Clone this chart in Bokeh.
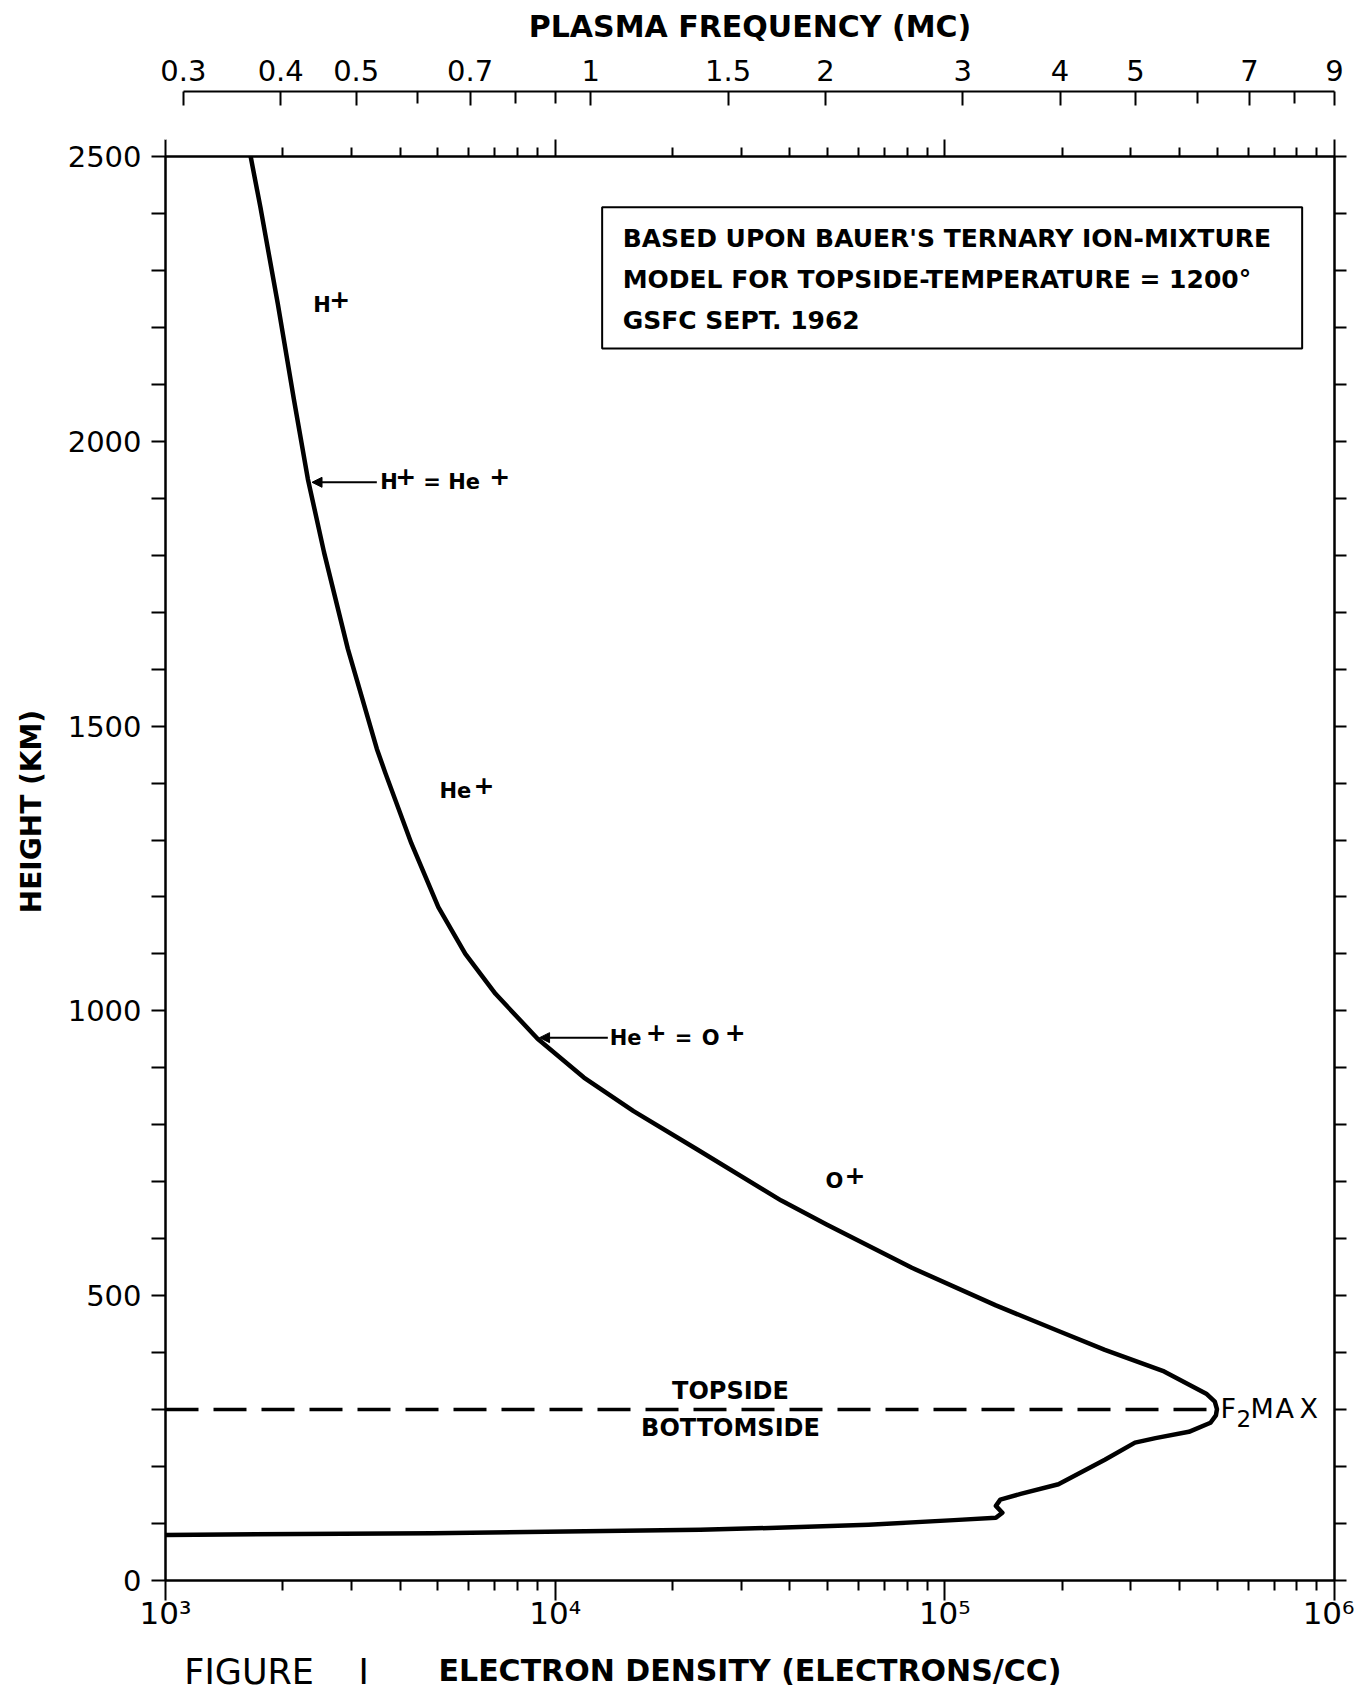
import math
from bokeh.plotting import figure
from bokeh.models import (LogAxis, LinearAxis, FixedTicker, Range1d, LogScale,
                          NumeralTickFormatter, Label, BoxAnnotation, Arrow, NormalHead)
from bokeh.embed import file_html
from bokeh.resources import INLINE

# ---------------- data ----------------
density = [1654, 1752, 1941, 2135, 2319, 2552, 2936, 3487, 3669, 4276, 5014, 5881,
           7029, 9013, 11850, 15890, 22990, 38050, 49720, 82290, 135200, 195700,
           257400, 365300, 468700, 493000, 499300, 496200, 480600, 423000, 347200,
           307600, 257400, 195700, 156500, 138800, 135200, 140500, 135200, 105500,
           63740, 38780, 23590, 4826, 1000]
height = [2500, 2411, 2242, 2074, 1934, 1805, 1636, 1460, 1417, 1294, 1182, 1100,
          1030, 951, 883, 824, 758, 667, 625, 549, 483, 438, 405, 367, 328, 314,
          301, 290, 277, 261, 250, 242, 212, 169, 152, 142, 131, 119, 110, 106,
          98, 93, 89, 83, 80]

density_range = [1e3, 1e6]
height_range = [0, 2500]
density_major = [1e3, 1e4, 1e5, 1e6]
density_minor = [m * 10 ** e for e in (3, 4, 5) for m in range(2, 10)]
density_labels = {1000: "10³", 10000: "10⁴", 100000: "10⁵", 1000000: "10⁶"}
height_major = [0, 500, 1000, 1500, 2000, 2500]
height_minor = [h for h in range(100, 2500, 100) if h % 500]
freq_major = [0.3, 0.4, 0.5, 0.7, 1, 1.5, 2, 3, 4, 5, 7, 9]
freq_minor = [0.6, 0.8, 0.9, 6, 8]
freq_bounds = (0.3, 9)
PLASMA_K = 9.0e-3           # MHz per sqrt(electrons/cc)
boundary_height = 300       # topside / bottomside boundary (km)

FONT = "DejaVu Sans"

p = figure(x_axis_type="log",
           x_range=Range1d(*density_range), y_range=Range1d(*height_range),
           frame_width=1169, frame_height=1424,
           output_backend="svg", toolbar_location=None, title=None,
           min_border_left=165, min_border_right=20, min_border_top=156,
           min_border_bottom=0,
           background_fill_color="white", border_fill_color="white")
p.grid.visible = False
p.outline_line_color = "black"
p.outline_line_width = 2

def style_axis(ax):
    ax.axis_line_width = 2
    ax.axis_line_color = "black"
    ax.major_tick_line_width = 2
    ax.minor_tick_line_width = 2
    ax.major_tick_line_color = "black"
    ax.minor_tick_line_color = "black"
    ax.major_label_text_color = "black"
    ax.major_label_text_font = FONT
    ax.axis_label_text_color = "black"
    ax.axis_label_text_font = FONT
    ax.axis_label_text_font_style = "bold"

def bare_axis(ax):
    ax.axis_line_color = None
    ax.major_tick_line_color = None
    ax.minor_tick_line_color = None
    ax.major_tick_in = 0
    ax.minor_tick_in = 0
    ax.minor_tick_out = 0

# bottom axis: electron density
xa = p.xaxis[0]
style_axis(xa)
xa.ticker = FixedTicker(ticks=density_major, minor_ticks=density_minor)
xa.major_label_overrides = density_labels
xa.major_tick_in = 0
xa.major_tick_out = 20
xa.minor_tick_in = 0
xa.minor_tick_out = 10
xa.major_label_text_font_size = "31px"
xa.major_label_standoff = -6
xa.axis_label = "ELECTRON DENSITY (ELECTRONS/CC)"
xa.axis_label_text_font_size = "30px"
xa.axis_label_standoff = 19

# outer bottom axis carrying only the "FIGURE I" caption, pulled onto the same row
fig_ax = LogAxis(ticker=FixedTicker(ticks=[1928]),
                 major_label_overrides={1928: "FIGURE\u00a0\u00a0\u00a0\u00a0I"})
bare_axis(fig_ax)
fig_ax.major_tick_out = 0
fig_ax.major_label_text_font = FONT
fig_ax.major_label_text_font_size = "35px"
fig_ax.major_label_text_color = "black"
fig_ax.major_label_standoff = -39
p.add_layout(fig_ax, "below")

# left axis: height
ya = p.yaxis[0]
style_axis(ya)
ya.ticker = FixedTicker(ticks=height_major, minor_ticks=height_minor)
ya.major_tick_in = 0
ya.major_tick_out = 14
ya.minor_tick_in = 0
ya.minor_tick_out = 14
ya.major_label_text_font_size = "29px"
ya.major_label_standoff = 10

# outer left axis carrying the height title
title_ax = LinearAxis(ticker=FixedTicker(ticks=[1350]),
                      major_label_overrides={1350: "HEIGHT (KM)"},
                      major_label_orientation="vertical")
bare_axis(title_ax)
title_ax.major_tick_out = 0
title_ax.major_label_text_font = FONT
title_ax.major_label_text_font_style = "bold"
title_ax.major_label_text_font_size = "28px"
title_ax.major_label_text_color = "black"
title_ax.major_label_standoff = 16
p.add_layout(title_ax, "left")

# right axis: ticks only
ra = LinearAxis(ticker=FixedTicker(ticks=height_major, minor_ticks=height_minor))
style_axis(ra)
ra.major_tick_in = 0
ra.major_tick_out = 12
ra.minor_tick_in = 0
ra.minor_tick_out = 12
ra.major_label_text_color = None
p.add_layout(ra, "right")

# top inner axis: density ticks pointing up, no labels
ta = LogAxis(ticker=FixedTicker(ticks=density_major, minor_ticks=density_minor))
style_axis(ta)
ta.major_tick_in = 0
ta.major_tick_out = 17
ta.minor_tick_in = 0
ta.minor_tick_out = 9
ta.major_label_text_color = None
p.add_layout(ta, "above")

# spacer between the frame and the frequency scale (one white tick at the left edge)
spacer = LogAxis(ticker=FixedTicker(ticks=[density_range[0]]))
spacer.axis_line_color = None
spacer.major_tick_line_color = "white"
spacer.major_tick_line_width = 1
spacer.minor_tick_line_color = None
spacer.major_tick_in = 0
spacer.major_tick_out = 48
spacer.major_label_text_color = None
p.add_layout(spacer, "above")

# top outer axis: plasma frequency
p.extra_x_ranges = {"freq": Range1d(round(PLASMA_K * math.sqrt(density_range[0]), 6),
                                    round(PLASMA_K * math.sqrt(density_range[1]), 6))}
p.extra_x_scales = {"freq": LogScale()}
fa = LogAxis(x_range_name="freq",
             ticker=FixedTicker(ticks=freq_major, minor_ticks=freq_minor),
             formatter=NumeralTickFormatter(format="0.[0]"),
             bounds=freq_bounds)
style_axis(fa)
fa.major_tick_in = 14
fa.major_tick_out = 0
fa.minor_tick_in = 12
fa.minor_tick_out = 0
fa.major_label_text_font_size = "29px"
fa.major_label_standoff = 11
fa.axis_label = "PLASMA FREQUENCY (MC)"
fa.axis_label_text_font_size = "30px"
fa.axis_label_standoff = 13
p.add_layout(fa, "above")

# ---------------- marks ----------------
p.line([density_range[0], max(density) * 0.95], [boundary_height, boundary_height],
       line_color="black", line_width=3.5, line_dash="33 15")
p.line(density, height, line_color="black", line_width=4.5, line_join="round")

# ---------------- annotations ----------------
def lab(x, y, text, size, bold=True, align="left", baseline="middle",
        dx=0, dy=0):
    p.add_layout(Label(x=x, y=y, x_offset=dx, y_offset=dy, text=text,
                       text_font=FONT, text_font_size=f"{size}px",
                       text_font_style="bold" if bold else "normal",
                       text_align=align, text_baseline=baseline,
                       text_color="black"))

def ion(x, y, parts, size=21):
    # parts: (text, horizontal offset in px, superscript?)
    for text, dx, sup in parts:
        if sup:
            lab(x, y, text, size + 4, dx=dx - 2, dy=6)
        else:
            lab(x, y, text, size, dx=dx)

p.add_layout(BoxAnnotation(left=13200, right=826000, bottom=2163, top=2411,
                           fill_color="white", fill_alpha=1.0,
                           line_color="black", line_alpha=1.0, line_width=2))
lab(14900, 2356, "BASED UPON BAUER'S TERNARY ION-MIXTURE", 25)
lab(14900, 2284, "MODEL FOR TOPSIDE-TEMPERATURE = 1200°", 25)
lab(14900, 2212, "GSFC SEPT. 1962", 25)

ion(2393, 2240, [("H", 0, False), ("+", 18, True)])
ion(3556, 1928, [("H", 0, False), ("+", 17, True), ("=", 43, False),
                 ("He", 68, False), ("+", 111, True)])
ion(5047, 1386, [("He", 0, False), ("+", 36, True)])
ion(13800, 953, [("He", 0, False), ("+", 38, True), ("=", 65, False),
                 ("O", 92, False), ("+", 117, True)])
ion(49400, 701, [("O", 0, False), ("+", 21, True)])

lab(28180, 333, "TOPSIDE", 24, align="center")
lab(28180, 267, "BOTTOMSIDE", 24, align="center")

# F2 MAX label
lab(510000, 302, "F", 27, bold=False)
lab(510000, 302, "2", 23, bold=False, dx=16, dy=-10)
lab(510000, 302, "M", 27, bold=False, dx=30)
lab(510000, 302, "A", 27, bold=False, dx=55)
lab(510000, 302, "X", 27, bold=False, dx=79)

p.add_layout(Arrow(end=NormalHead(size=10, fill_color="black", line_color="black"),
                   x_start=3486, y_start=1928, x_end=2377, y_end=1928,
                   line_color="black", line_width=2))
p.add_layout(Arrow(end=NormalHead(size=10, fill_color="black", line_color="black"),
                   x_start=13650, y_start=953, x_end=9120, y_end=953,
                   line_color="black", line_width=2))

open("out.html", "w").write(file_html(p, INLINE))
